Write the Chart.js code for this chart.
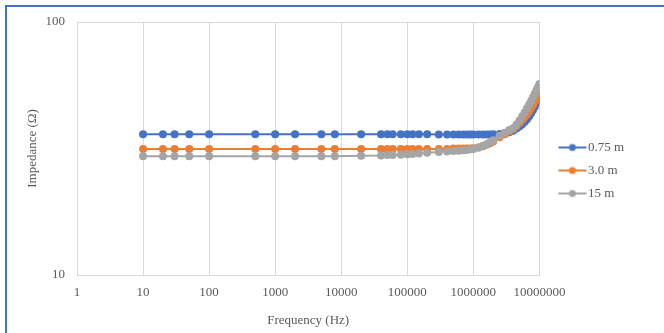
<!DOCTYPE html>
<html>
<head>
<meta charset="utf-8">
<script src="https://cdn.jsdelivr.net/npm/chart.js@4.4.0/dist/chart.umd.min.js"></script>
<style>
  html, body { margin: 0; padding: 0; background: #ffffff; }
  #wrap { position: relative; width: 664px; height: 333px; overflow: hidden; }
  #frame { position: absolute; left: 5px; top: 5px; width: 700px; height: 400px;
           border-left: 2px solid #4472C4; border-top: 2px solid #4472C4; }
  #c { position: absolute; left: 0; top: 0; }
</style>
</head>
<body>
<div id="wrap">
  <div id="frame"></div>
  <canvas id="c" width="664" height="333"></canvas>
</div>
<script>
// ---- data ----
const frequencies = [
  10, 20, 30, 50, 100, 500, 1000, 2000, 5000, 8000,
  20000, 40000, 50000, 60000, 80000, 100000, 120000, 150000, 200000,
  300000, 400000, 500000, 600000, 700000, 800000, 900000, 1000000,
  1200000, 1400000, 1600000, 1800000, 2000000, 2500000, 3000000, 3500000,
  4000000, 4500000, 5000000, 5500000, 6000000, 6500000, 7000000, 7500000,
  8000000, 8500000, 9000000, 9500000, 10000000
];
const impedance075 = [
  36.0, 36.0, 36.0, 36.0, 36.0, 36.0, 36.0, 36.0, 36.0, 36.0,
  36.0, 36.0, 36.0, 36.0, 36.0, 36.0, 36.0, 36.0, 36.0,
  35.9, 35.9, 35.9, 35.9, 35.9, 35.9, 35.9, 35.9,
  35.9, 35.9, 35.9, 35.9, 36.0, 36.1, 36.3, 36.7,
  37.2, 37.9, 38.6, 39.4, 40.3, 41.3, 42.4, 43.6,
  44.9, 46.2, 47.6, 49.0, 50.5
];
const impedance30 = [
  31.5, 31.5, 31.5, 31.5, 31.5, 31.5, 31.5, 31.5, 31.5, 31.5,
  31.5, 31.5, 31.5, 31.5, 31.5, 31.5, 31.5, 31.5, 31.5,
  31.5, 31.5, 31.6, 31.6, 31.6, 31.6, 31.6, 31.7,
  31.9, 32.3, 32.7, 33.2, 33.7, 35.0, 36.0, 37.0,
  37.8, 38.8, 39.9, 41.0, 42.1, 43.2, 44.4, 45.7,
  47.0, 48.4, 49.8, 51.3, 52.9
];
const impedance15 = [
  29.5, 29.5, 29.5, 29.5, 29.5, 29.5, 29.5, 29.5, 29.5, 29.5,
  29.6, 29.7, 29.8, 29.8, 29.9, 30.0, 30.1, 30.2, 30.4,
  30.6, 30.8, 30.9, 31.0, 31.1, 31.2, 31.4, 31.5,
  31.9, 32.4, 32.9, 33.5, 34.1, 35.5, 36.5, 37.4,
  38.0, 39.3, 40.8, 42.4, 44.0, 45.6, 47.2, 48.8,
  50.4, 52.0, 53.6, 55.2, 56.9
];
const seriesNames = ['0.75 m', '3.0 m', '15 m'];
const xTickValues = [1, 10, 100, 1000, 10000, 100000, 1000000, 10000000];
const yTickValues = [10, 100];

// ---- styling ----
const colors = ['#4472C4', '#ED7D31', '#A5A5A5'];
const FONT = "'Liberation Serif', 'Times New Roman', serif";
const TXT = '#595959';
const GRID = '#d9d9d9';

function toPoints(ys) { return frequencies.map((f, i) => ({ x: f, y: ys[i] })); }

// legend icon: line with a dot; canvas wider than the visible line so the
// icon sits left of its nominal box centre
function legendIcon(color) {
  const cv = document.createElement('canvas');
  cv.width = 60; cv.height = 10;
  const g = cv.getContext('2d');
  g.strokeStyle = color; g.lineWidth = 2;
  g.beginPath(); g.moveTo(23, 5); g.lineTo(51, 5); g.stroke();
  g.fillStyle = color;
  g.beginPath(); g.arc(37, 5, 3.5, 0, Math.PI * 2); g.fill();
  return cv;
}
const icons = colors.map(legendIcon);

const allSeries = [impedance075, impedance30, impedance15];
const datasets = allSeries.map((ys, i) => ({
  label: seriesNames[i],
  data: toPoints(ys),
  borderColor: colors[i],
  backgroundColor: colors[i],
  borderWidth: 2,
  pointRadius: 4,
  pointBorderWidth: 0,
  pointBackgroundColor: colors[i],
  pointHoverRadius: 4,
  tension: 0,
  order: 3 - i
}));

new Chart(document.getElementById('c'), {
  type: 'line',
  data: { datasets },
  options: {
    responsive: false,
    animation: false,
    devicePixelRatio: 1,
    layout: { padding: { left: 0, top: 22, right: 30, bottom: 14 } },
    plugins: {
      tooltip: { enabled: false },
      legend: {
        position: 'right',
        labels: {
          usePointStyle: true,
          pointStyleWidth: 32,
          padding: 10,
          color: TXT,
          font: { family: FONT, size: 13 },
          generateLabels: (chart) => chart.data.datasets.map((ds, i) => ({
            text: ds.label,
            fillStyle: colors[i],
            strokeStyle: colors[i],
            lineWidth: 0,
            pointStyle: icons[i],
            datasetIndex: i,
            hidden: false,
            fontColor: TXT
          }))
        }
      }
    },
    scales: {
      x: {
        type: 'logarithmic',
        min: 1,
        max: 10000000,
        afterBuildTicks: (s) => { s.ticks = xTickValues.map(v => ({ value: v })); },
        afterFit: (s) => { s.height = 44; },
        grid: { color: GRID, lineWidth: 1, drawTicks: false },
        border: { display: true, color: GRID, width: 1 },
        ticks: {
          padding: 10,
          color: TXT,
          font: { family: FONT, size: 13 },
          maxRotation: 0,
          autoSkip: false,
          callback: (v) => String(v)
        },
        title: {
          display: true,
          text: 'Frequency (Hz)',
          color: TXT,
          font: { family: FONT, size: 13 },
          padding: { top: 0, bottom: -9 }
        }
      },
      y: {
        type: 'logarithmic',
        min: 10,
        max: 100,
        afterBuildTicks: (s) => { s.ticks = yTickValues.map(v => ({ value: v })); },
        afterFit: (s) => { s.width = 77; },
        grid: { color: GRID, lineWidth: 1, drawTicks: false },
        border: { display: false },
        ticks: {
          padding: 12,
          color: TXT,
          font: { family: FONT, size: 13 },
          callback: (v) => String(v)
        },
        title: {
          display: true,
          text: 'Impedance (Ω)',
          color: TXT,
          font: { family: FONT, size: 13 },
          padding: { top: 25, bottom: 0 }
        }
      }
    }
  }
});
</script>
</body>
</html>
